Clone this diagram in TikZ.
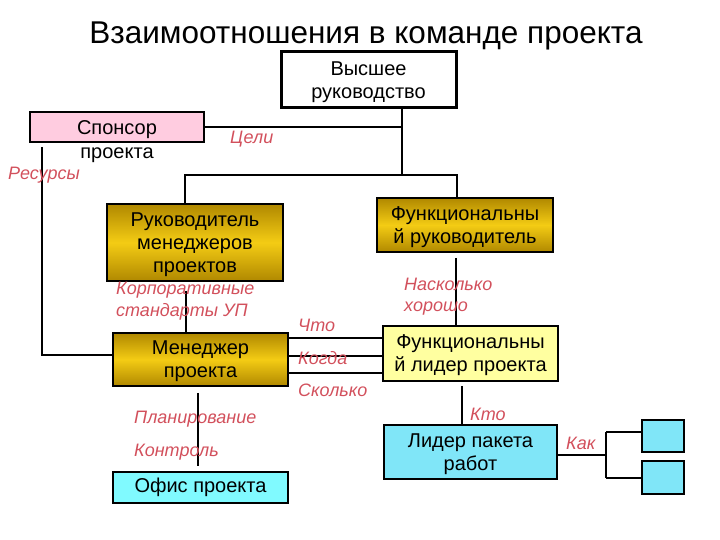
\documentclass[tikz,border=0pt]{standalone}
\usepackage{fontspec}
\setmainfont{Liberation Sans}
\definecolor{labred}{RGB}{210,80,92}
\definecolor{pinkfill}{RGB}{255,204,224}
\definecolor{golddark}{RGB}{176,136,0}
\definecolor{goldbright}{RGB}{244,204,20}
\definecolor{lightyellow}{RGB}{255,255,160}
\definecolor{cyanA}{RGB}{128,230,248}
\definecolor{cyanB}{RGB}{128,250,255}
\begin{document}
\begin{tikzpicture}[x=1pt,y=-1pt,
  box/.style={draw=black, line width=1.5pt, rectangle, inner sep=0pt, align=center,
    font=\fontsize{20}{23}\selectfont},
  multi/.style={text depth=-6pt},
  goldbox/.style={box, multi, top color=golddark, bottom color=golddark, middle color=goldbright},
  lab/.style={text=labred, font=\fontsize{18}{21}\selectfont\itshape, inner sep=0pt,
    anchor=west, align=left, yshift=-2pt},
  conn/.style={line width=1.5pt}]
\useasboundingbox (0,0) rectangle (720,540);

\node[font=\fontsize{31.5}{34}\selectfont, inner sep=0pt] (title) at (366,36) {Взаимоотношения в команде проекта};

\node[box, multi, line width=3pt, minimum width=175pt, minimum height=56pt, fill=white] (top) at (368.5,80) {Высшее\\руководство};
\node[box, fill=pinkfill, minimum width=174pt, minimum height=30pt] (sp) at (117,127) {};
\node[align=center, inner sep=0pt, font=\fontsize{20}{24}\selectfont] (sptext) at (117,142) {Спонсор\\проекта};
\node[goldbox, minimum width=176pt, minimum height=77pt] (ruk) at (195,242.5) {Руководитель\\менеджеров\\проектов};
\node[goldbox, minimum width=176pt, minimum height=54pt] (fr) at (465,225) {Функциональны\\й руководитель};
\node[goldbox, minimum width=175pt, minimum height=53pt] (mgr) at (200.5,359.5) {Менеджер\\проекта};
\node[box, multi, fill=lightyellow, minimum width=175pt, minimum height=55pt] (fl) at (470.5,353.5) {Функциональны\\й лидер проекта};
\node[box, multi, fill=cyanA, minimum width=173pt, minimum height=54pt] (lp) at (470.5,452) {Лидер пакета\\работ};
\node[box, fill=cyanB, minimum width=175pt, minimum height=31pt] (of) at (200.5,487.5) {Офис проекта};
\node[box, fill=cyanA, minimum width=42pt, minimum height=32pt] (s1) at (663,436) {};
\node[box, fill=cyanA, minimum width=42pt, minimum height=33pt] (s2) at (663,477.5) {};

% connectors
\coordinate (j1) at (402,175);
\coordinate (jl) at (185,175);
\coordinate (jr) at (457,175);
\draw[conn] (top.south -| j1) -- (j1);
\draw[conn] (ruk.north -| jl) -- (jl) -- (jr) -- (fr.north -| jr);
\draw[conn] (sp.east) -- (sp.east -| j1);
\coordinate (rs) at (42,147);
\coordinate (rb) at (42,355);
\draw[conn] (rs) -- (rb) -- (rb -| mgr.west);
\coordinate (xr) at (186,0);
\draw[conn, shorten <=9pt] (ruk.south -| xr) -- (mgr.north -| xr);
\coordinate (c1) at (0,338);
\coordinate (c2) at (0,356);
\coordinate (c3) at (0,373);
\draw[conn] (mgr.east |- c1) -- (fl.west |- c1);
\draw[conn] (mgr.east |- c2) -- (fl.west |- c2);
\draw[conn] (mgr.east |- c3) -- (fl.west |- c3);
\coordinate (xf) at (456,0);
\draw[conn, shorten <=5pt] (fr.south -| xf) -- (fl.north -| xf);
\coordinate (xl) at (462,0);
\draw[conn, shorten <=4pt] (fl.south -| xl) -- (lp.north -| xl);
\coordinate (xm) at (198,0);
\draw[conn, shorten <=6pt, shorten >=5pt] (mgr.south -| xm) -- (of.north -| xm);
\coordinate (k) at (606,455);
\coordinate (ktop) at (606,432);
\coordinate (kbot) at (606,478);
\draw[conn] (lp.east |- k) -- (k);
\draw[conn] (ktop) -- (kbot);
\draw[conn] (ktop) -- (ktop -| s1.west);
\draw[conn] (kbot) -- (kbot -| s2.west);

% labels
\node[lab] (l1) at (230,137) {Цели};
\node[lab] (l2) at (8,173) {Ресурсы};
\node[lab, font=\fontsize{18}{22}\selectfont\itshape] (l3) at (116,299) {Корпоративные\\стандарты УП};
\node[lab] (l4) at (298,323) {Что};
\node[lab] (l5) at (298,356) {Когда};
\node[lab] (l6) at (298,388) {Сколько};
\node[lab] (l7) at (404,294.5) {Насколько\\хорошо};
\node[lab] (l8) at (470,412) {Кто};
\node[lab] (l9) at (566,441) {Как};
\node[lab] (l10) at (134,417) {Планирование};
\node[lab] (l11) at (134,450) {Контроль};
\end{tikzpicture}
\end{document}
